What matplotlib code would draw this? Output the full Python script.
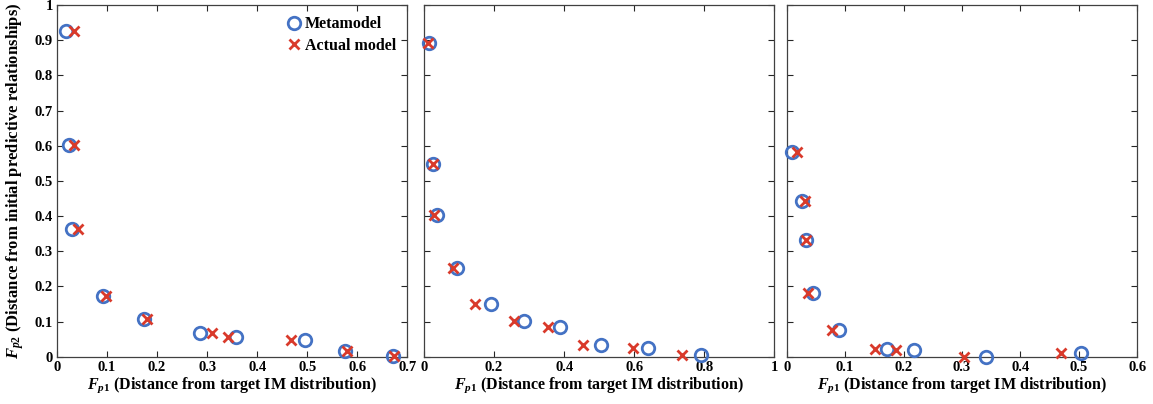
import numpy as np
import matplotlib
matplotlib.use('Agg')
import matplotlib.pyplot as plt
from matplotlib.ticker import FuncFormatter

plt.rcParams['font.family'] = 'Liberation Serif'
plt.rcParams['font.weight'] = 'bold'
plt.rcParams['mathtext.fontset'] = 'custom'
plt.rcParams['mathtext.it'] = 'Liberation Serif:italic:bold'
plt.rcParams['mathtext.rm'] = 'Liberation Serif:bold'
plt.rcParams['mathtext.bf'] = 'Liberation Serif:bold'

# Panel 1
meta1_x = [0.019, 0.025, 0.031, 0.091, 0.174, 0.286, 0.357, 0.495, 0.575, 0.671]
meta1_y = [0.927, 0.601, 0.364, 0.173, 0.106, 0.068, 0.057, 0.047, 0.017, 0.002]
act1_x = [0.034, 0.035, 0.043, 0.098, 0.179, 0.310, 0.342, 0.467, 0.579, 0.674]
act1_y = [0.927, 0.601, 0.364, 0.173, 0.106, 0.068, 0.057, 0.047, 0.017, 0.002]

# Panel 2
meta2_x = [0.015, 0.025, 0.038, 0.093, 0.191, 0.284, 0.387, 0.504, 0.639, 0.790]
meta2_y = [0.893, 0.548, 0.404, 0.252, 0.150, 0.102, 0.084, 0.034, 0.025, 0.004]
act2_x = [0.011, 0.025, 0.030, 0.082, 0.146, 0.256, 0.353, 0.455, 0.597, 0.736]
act2_y = [0.893, 0.548, 0.404, 0.252, 0.150, 0.102, 0.084, 0.034, 0.025, 0.004]

# Panel 3
meta3_x = [0.009, 0.026, 0.033, 0.045, 0.089, 0.171, 0.218, 0.341, 0.503]
meta3_y = [0.582, 0.442, 0.332, 0.180, 0.076, 0.021, 0.019, 0.000, 0.010]
act3_x = [0.017, 0.032, 0.033, 0.036, 0.077, 0.151, 0.187, 0.304, 0.469]
act3_y = [0.582, 0.442, 0.332, 0.180, 0.076, 0.021, 0.019, 0.000, 0.010]

xlims = [0.7, 1.0, 0.6]
xsteps = [0.1, 0.2, 0.1]

paneles = [(meta1_x, meta1_y, act1_x, act1_y),
           (meta2_x, meta2_y, act2_x, act2_y),
           (meta3_x, meta3_y, act3_x, act3_y)]

azul = '#4472C4'
rojo = '#D93A2B'

fig = plt.figure(figsize=(11.53, 4.04), dpi=100)
lefts = [0.0494, 0.3677, 0.6823]
ancho = 0.304
abajo = 0.117
alto = 0.8705

fmt = FuncFormatter(lambda v, p: f'{v:g}')

for i, (mx, my, ax_, ay) in enumerate(paneles):
    ax = fig.add_axes([lefts[i], abajo, ancho, alto])
    ax.plot(mx, my, 'o', mfc='none', mec=azul, mew=2.0, ms=9, clip_on=False,
            label='Metamodel', zorder=3)
    ax.plot(ax_, ay, 'x', color=rojo, mew=2.0, ms=7.5, clip_on=False,
            label='Actual model', zorder=4)
    ax.set_xlim(0, xlims[i])
    ax.set_ylim(0, 1)
    ax.set_xticks(np.arange(0, xlims[i] + 1e-9, xsteps[i]))
    ax.set_yticks(np.arange(0, 1.0001, 0.1))
    ax.xaxis.set_major_formatter(fmt)
    ax.yaxis.set_major_formatter(fmt)
    ax.tick_params(direction='in', top=True, right=True, length=4, width=0.8,
                   labelsize=10.5, color='#262626', pad=3)
    for s in ax.spines.values():
        s.set_color('#404040')
        s.set_linewidth(0.9)
    if i > 0:
        ax.tick_params(labelleft=False)
    ax.set_xlabel(r'$F_{p\mathrm{1}}$ (Distance from target IM distribution)',
                  fontsize=11.5, fontweight='bold', labelpad=1)
    if i == 0:
        ax.set_ylabel(r'$F_{p2}$ (Distance from initial predictive relationships)',
                      fontsize=12, fontweight='bold', labelpad=6)
        ax.legend(loc='upper right', frameon=False, fontsize=11.5,
                  handletextpad=0.1, borderaxespad=0.3, labelspacing=0.35,
                  handlelength=1.2, bbox_to_anchor=(1.0, 1.0))

plt.savefig('out.png', dpi=100)
